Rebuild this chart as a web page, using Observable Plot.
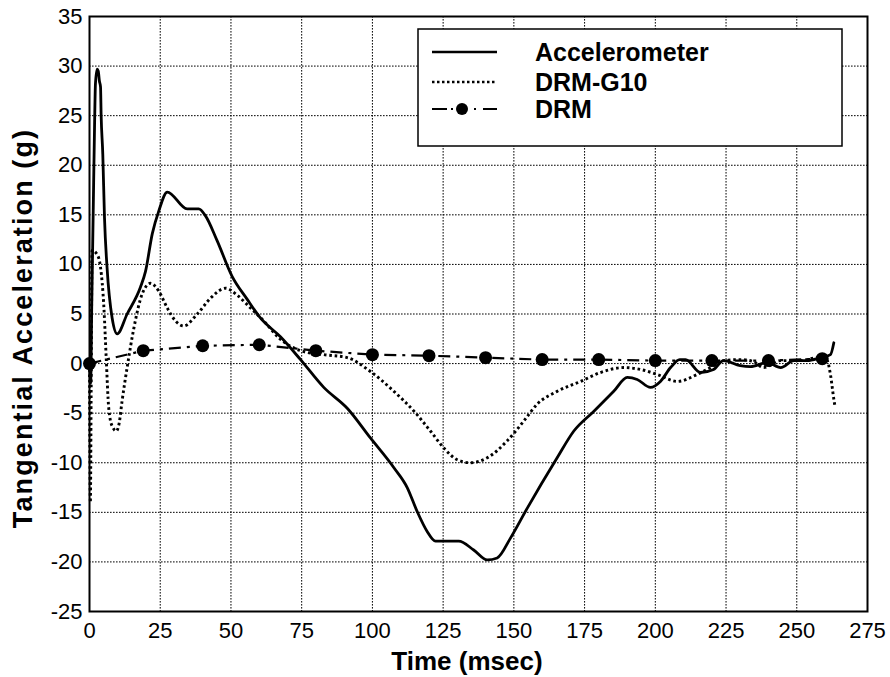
<!DOCTYPE html>
<html>
<head>
<meta charset="utf-8">
<script src="https://cdn.jsdelivr.net/npm/d3@7"></script>
<script src="https://cdn.jsdelivr.net/npm/@observablehq/plot@0.6"></script>
<style>
  html, body { margin: 0; padding: 0; background: white; }
  #chart { position: relative; width: 890px; height: 677px; }
</style>
</head>
<body>
<div id="chart"></div>
<script>
// ---- Data ----
const xTicks = [0, 25, 50, 75, 100, 125, 150, 175, 200, 225, 250, 275];
const yTicks = [-25, -20, -15, -10, -5, 0, 5, 10, 15, 20, 25, 30, 35];

const seriesNames = ["Accelerometer", "DRM-G10", "DRM"];

const accelT = [0, 0.4, 0.8, 1.3, 1.8, 2.1, 2.7, 3.1, 3.5, 3.9, 4.1, 4.7, 5.3, 6.2, 8.0, 9.8, 13.3, 18.0, 19.8, 22.2, 24.5, 27.5, 34.5, 38.6, 41.0, 45.1, 50.4, 55.7, 60.4, 67.5, 74.6, 82.8, 91.1, 99.3, 107.6, 112.3, 115.8, 119.3, 122.3, 130.5, 135.8, 140.6, 144.1, 148.8, 154.7, 165.3, 171.2, 178.3, 185.3, 190.1, 193.6, 198.3, 201.8, 205.4, 208.6, 210.7, 216, 220.6, 224.1, 230, 233.6, 239.5, 244.3, 249, 253.7, 258.4, 261.9, 263.1];
const accelV = [0, -2, 6, 15.1, 24.2, 28.2, 29.7, 29.5, 28.5, 27.9, 25.2, 21.1, 14.7, 9.7, 4.6, 3.0, 5.0, 7.7, 9.3, 13.1, 15.4, 17.3, 15.6, 15.6, 14.9, 12.4, 8.8, 6.5, 4.6, 2.7, 0.4, -2.4, -4.5, -7.5, -10.5, -12.5, -14.9, -16.9, -17.9, -17.9, -18.8, -19.8, -19.6, -17.6, -14.6, -9.5, -6.8, -4.8, -2.8, -1.4, -1.6, -2.4, -1.8, -0.4, 0.4, 0.4, -0.9, -0.6, 0.3, -0.2, -0.3, 0.1, -0.4, 0.3, 0.3, 0.6, 0.9, 2.1];

const g10T = [0, 0.3, 0.6, 0.9, 2.7, 3.9, 5.1, 5.9, 6.8, 8.0, 9.5, 10.5, 11.5, 13.3, 15.7, 18.6, 21.6, 24.5, 27.5, 30.4, 33.3, 38.1, 42.8, 48.1, 52.2, 56.9, 61.6, 66.9, 74.6, 82.8, 91.1, 99.3, 107.6, 114.7, 120.5, 125.2, 130, 134.7, 140.6, 147.6, 153.5, 158.2, 165.3, 173.6, 180.6, 188.9, 194.8, 200.7, 207.7, 214.8, 219.5, 224.2, 230.1, 234.7, 238.3, 244.3, 251.3, 257.2, 260.7, 261.9, 263.1, 263.5];
const g10V = [0, -14, -2, 11.4, 11.0, 9.7, 5.6, 0.6, -4.5, -6.3, -6.8, -6.0, -3.8, -0.4, 3.6, 7.0, 8.1, 7.3, 5.6, 4.3, 3.8, 5.0, 6.6, 7.6, 6.9, 5.6, 4.3, 2.6, 1.3, 0.9, 0.6, -0.8, -2.8, -4.8, -6.8, -8.5, -9.7, -10.0, -9.5, -7.8, -5.8, -4.1, -2.8, -1.8, -0.9, -0.4, -0.6, -1.1, -1.8, -1.1, -0.4, 0.3, 0.4, 0.2, -0.4, 0.3, 0.3, 0.6, 0.3, -1.1, -3.6, -4.3];

const drmT = [0, 19, 40, 60, 80, 100, 120, 140, 160, 180, 200, 220, 240, 259];
const drmV = [0, 1.3, 1.8, 1.9, 1.3, 0.9, 0.8, 0.6, 0.4, 0.4, 0.3, 0.3, 0.3, 0.5];

const xTitle = "Time (msec)";
const yTitle = "Tangential Acceleration (g)";

// ---- Build tables ----
const accel = accelT.map((t, i) => ({t, v: accelV[i]}));
const g10 = g10T.map((t, i) => ({t, v: g10V[i]}));
const drm = drmT.map((t, i) => ({t, v: drmV[i]}));

const font = "'Liberation Sans', Arial, Helvetica, sans-serif";
const gridStyle = {stroke: "black", strokeWidth: 1, strokeOpacity: 1, strokeDasharray: "1.6,1.4", strokeLinecap: "butt"};

const svg = Plot.plot({
  width: 890,
  height: 677,
  marginLeft: 89,
  marginRight: 23,
  marginTop: 16,
  marginBottom: 66,
  style: {fontFamily: font, fontSize: "22px", color: "black", background: "white", overflow: "visible"},
  x: {domain: [0, 275], ticks: xTicks, tickSize: 0, tickPadding: 11, label: null, tickFormat: d => String(d)},
  y: {domain: [-25, 35], ticks: yTicks, tickSize: 0, tickPadding: 7, label: null, tickFormat: d => String(d)},
  marks: [
    Plot.ruleX(xTicks, gridStyle),
    Plot.ruleY(yTicks, gridStyle),
    Plot.line(drm, {x: "t", y: "v", stroke: "black", strokeWidth: 2.2, strokeDasharray: "12,6,3,6", strokeLinecap: "butt"}),
    Plot.dot(drm, {x: "t", y: "v", r: 6.5, fill: "black", stroke: "none"}),
    Plot.line(g10, {x: "t", y: "v", curve: "monotone-x", stroke: "black", strokeWidth: 2.9, strokeDasharray: "2.6,2.8", strokeLinecap: "butt"}),
    Plot.line(accel, {x: "t", y: "v", curve: "monotone-x", stroke: "black", strokeWidth: 2.8}),
    Plot.frame({stroke: "black", strokeWidth: 2})
  ]
});

document.getElementById("chart").appendChild(svg);

const s = d3.select(svg);

// Axis titles
s.append("text")
  .attr("x", 467)
  .attr("y", 670)
  .attr("text-anchor", "middle")
  .style("font-family", font)
  .style("font-size", "26px")
  .style("font-weight", "bold")
  .attr("fill", "black")
  .text(xTitle);

s.append("text")
  .attr("transform", "translate(32,328) rotate(-90)")
  .attr("text-anchor", "middle")
  .style("font-family", font)
  .style("font-size", "27px")
  .style("font-weight", "bold")
  .style("letter-spacing", "2.1px")
  .attr("fill", "black")
  .text(yTitle);

// Legend
const lg = s.append("g");
lg.append("rect")
  .attr("x", 418).attr("y", 29).attr("width", 424).attr("height", 117)
  .attr("fill", "white").attr("stroke", "black").attr("stroke-width", 1.5);

const rows = [52, 82, 109];
lg.append("line").attr("x1", 432).attr("x2", 497).attr("y1", rows[0]).attr("y2", rows[0])
  .attr("stroke", "black").attr("stroke-width", 2.5);
lg.append("line").attr("x1", 432).attr("x2", 497).attr("y1", rows[1]).attr("y2", rows[1])
  .attr("stroke", "black").attr("stroke-width", 2.6).attr("stroke-dasharray", "2.5,2.5");
lg.append("line").attr("x1", 432).attr("x2", 497).attr("y1", rows[2]).attr("y2", rows[2])
  .attr("stroke", "black").attr("stroke-width", 2.2).attr("stroke-dasharray", "15,4,2,21,2,7,14,100");
lg.append("circle").attr("cx", 462).attr("cy", rows[2]).attr("r", 6).attr("fill", "black");

seriesNames.forEach((name, i) => {
  lg.append("text")
    .attr("x", 535)
    .attr("y", rows[i] + 9)
    .attr("text-anchor", "start")
    .style("text-anchor", "start")
    .style("font-family", font)
    .style("font-size", "25px")
    .style("font-weight", "bold")
    .attr("fill", "black")
    .text(name);
});
</script>
</body>
</html>
